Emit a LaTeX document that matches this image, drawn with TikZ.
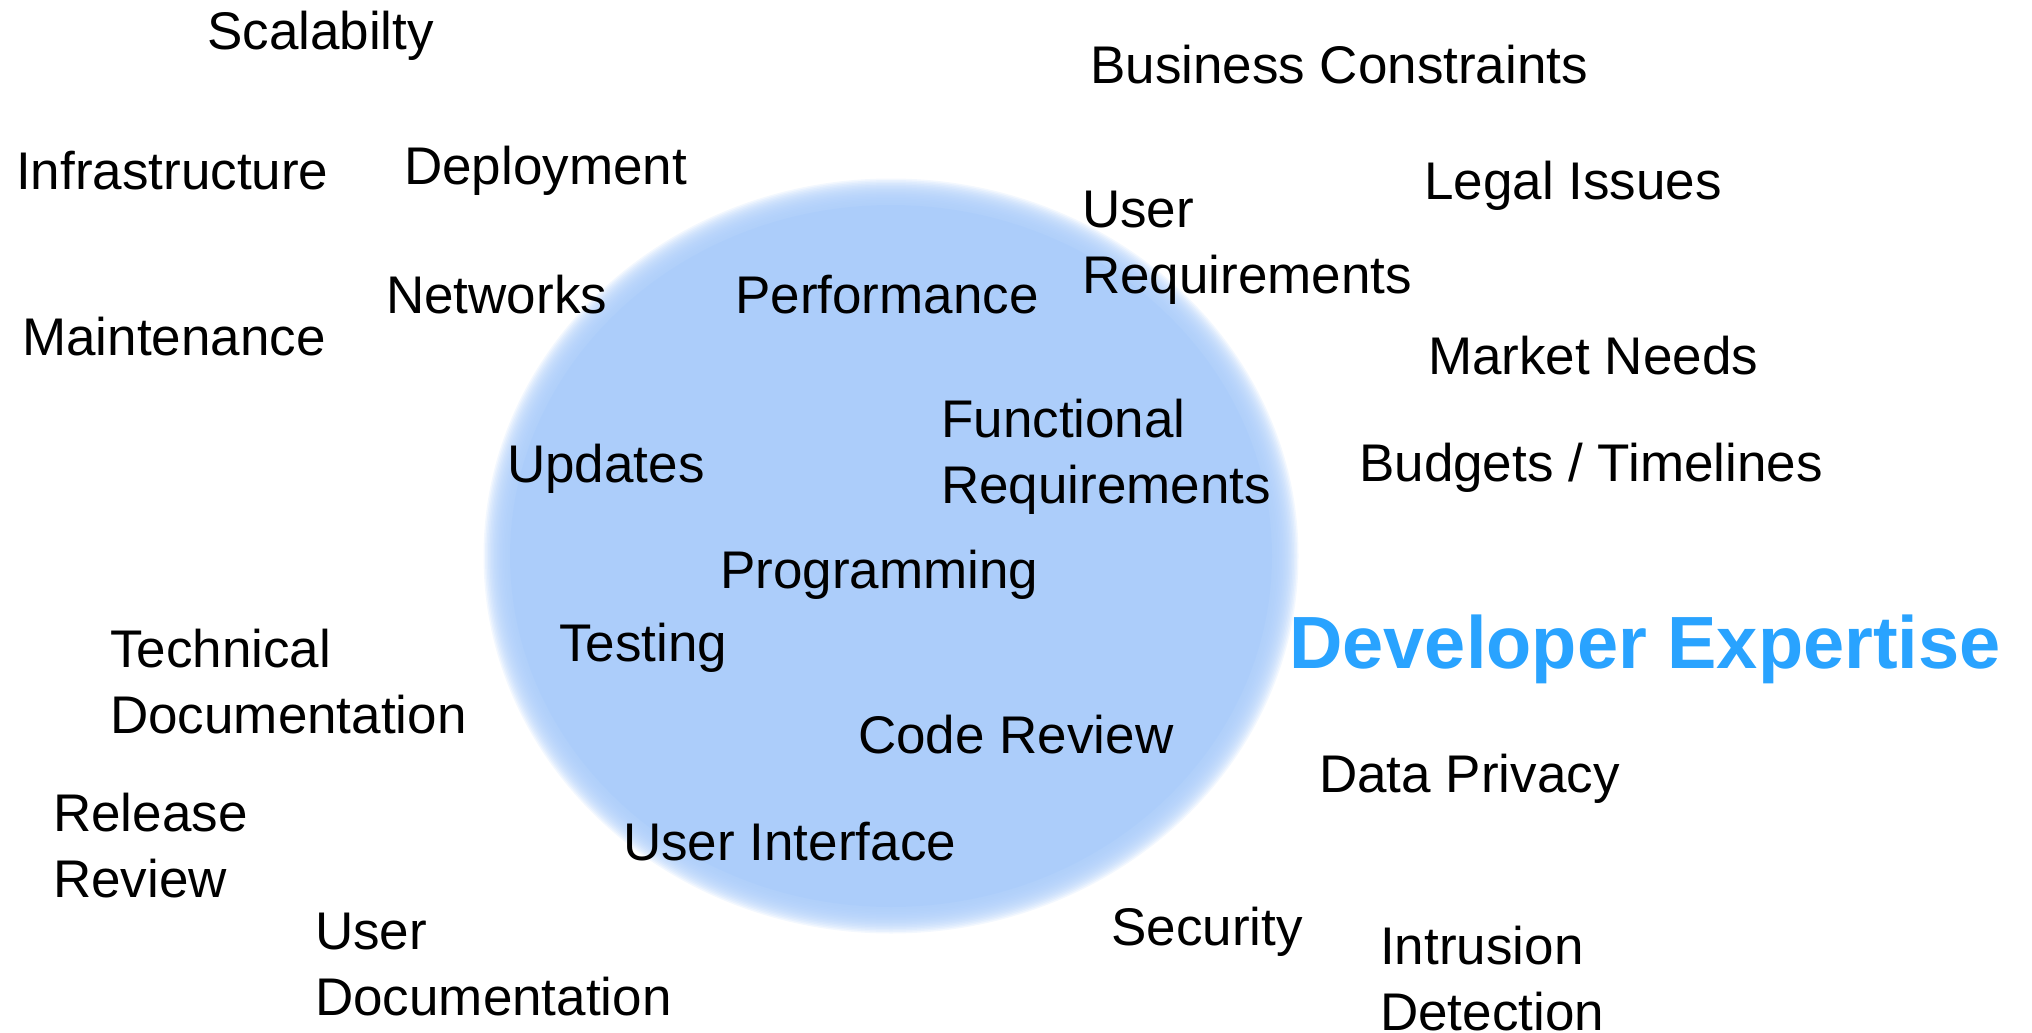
\documentclass[tikz,border=0pt]{standalone}
\usepackage{fontspec}
\setmainfont{Liberation Sans}
\definecolor{cb}{RGB}{172,205,250}
\definecolor{tb}{RGB}{41,163,255}
\begin{document}
\begin{tikzpicture}[x=1pt,y=-1pt,
  lbl/.style={anchor=base west,inner sep=0pt,align=left,font=\fontsize{53}{66}\selectfont},
  big/.style={anchor=base west,inner sep=0pt,text=tb,font=\fontsize{74}{80}\selectfont\bfseries}]
\useasboundingbox (0,0) rectangle (2032,1033);
\fill[cb] (891,556) ellipse (381 and 351);
\foreach \i in {0,...,19}{
  \fill[cb,opacity=0.15] (891,556) ellipse ({379+1.5*\i} and {349+1.5*\i});
}
\node[lbl] (scal) at (207,50) {Scalabilty};
\node[lbl] (infra) at (16,189) {Infrastructure};
\node[lbl] (depl) at (404,184) {Deployment};
\node[lbl] (maint) at (22,355) {Maintenance};
\node[lbl] (netw) at (386,313) {Networks};
\node[lbl] (perf) at (735,313) {Performance};
\node[lbl] (ureq) at (1082,293) {User\\Requirements};
\node[lbl] (bus) at (1090,83) {Business Constraints};
\node[lbl] (legal) at (1424,199) {Legal Issues};
\node[lbl] (market) at (1428,374) {Market Needs};
\node[lbl] (budget) at (1359,481) {Budgets / Timelines};
\node[lbl] (freq) at (941,503) {Functional\\Requirements};
\node[lbl] (upd) at (507,482) {Updates};
\node[lbl] (prog) at (720,588) {Programming};
\node[lbl] (test) at (559,661) {Testing};
\node[big] (dev) at (1289,668) {Developer Expertise};
\node[lbl] (tech) at (110,733) {Technical\\Documentation};
\node[lbl] (code) at (858,753) {Code Review};
\node[lbl] (data) at (1319,792) {Data Privacy};
\node[lbl] (rel) at (53,897) {Release\\Review};
\node[lbl] (ui) at (623,860) {User Interface};
\node[lbl] (sec) at (1111,945) {Security};
\node[lbl] (udoc) at (315,1015) {User\\Documentation};
\node[lbl] (intr) at (1380,1030) {Intrusion\\Detection};
\end{tikzpicture}
\end{document}
